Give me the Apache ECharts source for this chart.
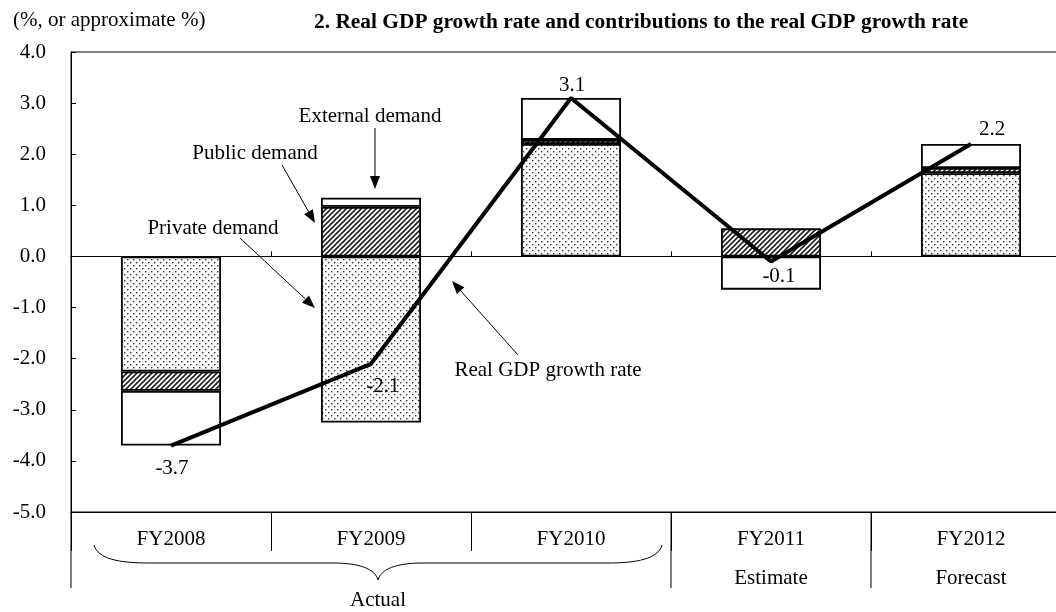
<!DOCTYPE html>
<html>
<head>
<meta charset="utf-8">
<script src="https://cdn.jsdelivr.net/npm/echarts@6/dist/echarts.min.js"></script>
<style>
html,body{margin:0;padding:0;background:#fff;}
#chart{width:1056px;height:612px;}
</style>
</head>
<body>
<div id="chart"></div>
<script>
// ---- data ----
const categories = ['FY2008', 'FY2009', 'FY2010', 'FY2011', 'FY2012'];
const subLabels = ['', '', '', 'Estimate', 'Forecast'];
const privateDemand = [-2.25, -3.25, 2.2, 0.0, 1.63];
const publicDemand = [-0.38, 0.97, 0.08, 0.55, 0.1];
const externalDemand = [-1.07, 0.18, 0.82, -0.65, 0.47];
const gdpGrowth = [-3.7, -2.1, 3.1, -0.1, 2.2];
const yMin = -5, yMax = 4, yStep = 1;

const FONT = '"Liberation Serif", "Times New Roman", serif';
const FS = 21;

function dotPattern() {
  const c = document.createElement('canvas');
  c.width = 6; c.height = 6;
  const g = c.getContext('2d');
  g.fillStyle = '#ffffff'; g.fillRect(0, 0, 6, 6);
  g.fillStyle = '#333333';
  g.fillRect(1, 1, 1.4, 1.4);
  g.fillRect(4, 4, 1.4, 1.4);
  return c;
}
function hatchPattern() {
  const s = 5;
  const c = document.createElement('canvas');
  c.width = s; c.height = s;
  const g = c.getContext('2d');
  g.fillStyle = '#ffffff'; g.fillRect(0, 0, s, s);
  g.strokeStyle = '#222222'; g.lineWidth = 1.6;
  g.beginPath();
  g.moveTo(-1, s + 1); g.lineTo(s + 1, -1);
  g.moveTo(-1, 1); g.lineTo(1, -1);
  g.moveTo(s - 1, s + 1); g.lineTo(s + 1, s - 1);
  g.stroke();
  return c;
}

const chart = echarts.init(document.getElementById('chart'), null, {renderer: 'canvas'});

const barStyle = (fill) => ({
  color: fill,
  borderColor: '#000',
  borderWidth: 1.8
});

// label placement for the GDP line values
const gdpLabelPos = [
  {position: 'bottom', distance: 12, offset: [1, 0]},
  {position: 'bottom', distance: 8, offset: [12, 4]},
  {position: 'top', distance: 2, offset: [1, 0]},
  {position: 'bottom', distance: 4, offset: [8, 0]},
  {position: 'top', distance: 4, offset: [21, 0]}
];

const option = {
  animation: false,
  backgroundColor: '#fff',
  textStyle: {fontFamily: FONT},
  grid: {left: 71, top: 52, width: 1000, bottom: 100, containLabel: false, outerBoundsMode: 'none',
         show: true, borderColor: '#000', borderWidth: 1, backgroundColor: 'transparent'},
  xAxis: [
    {
      type: 'category', data: categories, boundaryGap: true,
      axisLine: {onZero: true, lineStyle: {color: '#000', width: 1}},
      axisTick: {show: true, inside: true, length: 5, lineStyle: {color: '#000'}},
      axisLabel: {show: false}, splitLine: {show: false}
    },
    {
      type: 'category', data: categories, boundaryGap: true, position: 'bottom',
      axisLine: {onZero: false, lineStyle: {color: '#000', width: 1}},
      axisTick: {show: true, inside: false, length: 39, lineStyle: {color: '#000'}},
      axisLabel: {
        show: true, margin: 8, color: '#000', fontFamily: FONT, fontSize: FS, lineHeight: 39,
        formatter: (v, i) => subLabels[i] ? v + '\n' + subLabels[i] : v
      },
      splitLine: {show: false}
    }
  ],
  yAxis: {
    type: 'value', min: yMin, max: yMax, interval: yStep,
    axisLine: {show: true, lineStyle: {color: '#000', width: 1}},
    axisTick: {show: true, inside: true, length: 5, lineStyle: {color: '#000'}},
    axisLabel: {color: '#000', fontFamily: FONT, fontSize: FS, margin: 25, formatter: v => v.toFixed(1)},
    splitLine: {show: false}
  },
  series: [
    {name: 'Private demand', type: 'bar', stack: 'total', barWidth: '50%', xAxisIndex: 0, data: privateDemand, itemStyle: barStyle({image: dotPattern(), repeat: 'repeat'}), z: 2},
    {name: 'Public demand', type: 'bar', stack: 'total', barWidth: '50%', xAxisIndex: 0, data: publicDemand, itemStyle: barStyle({image: hatchPattern(), repeat: 'repeat'}), z: 2},
    {name: 'External demand', type: 'bar', stack: 'total', barWidth: '50%', xAxisIndex: 0, data: externalDemand, itemStyle: barStyle('#ffffff'), z: 2},
    {
      name: 'Real GDP growth rate', type: 'line', z: 5, xAxisIndex: 0,
      data: gdpGrowth.map((v, i) => ({value: v, label: gdpLabelPos[i]})),
      showSymbol: true, symbol: 'circle', symbolSize: 1,
      itemStyle: {color: '#000'},
      lineStyle: {color: '#000', width: 4},
      label: {show: true, color: '#000', fontFamily: FONT, fontSize: FS, formatter: p => p.value.toFixed(1)}
    }
  ]
};
chart.setOption(option);

// ---- decorations (anchored to the axes) ----
function px(i) { return chart.convertToPixel({xAxisIndex: 0}, i); }
function py(v) { return chart.convertToPixel({yAxisIndex: 0}, v); }
const half = (px(1) - px(0)) / 2;
const yBot = py(yMin);
const xLeft = px(0) - half;

function arrow(x1, y1, x2, y2) {
  const ang = Math.atan2(y2 - y1, x2 - x1);
  const L = 13, W = 5;
  const bx = x2 - L * Math.cos(ang), by = y2 - L * Math.sin(ang);
  const nx = -Math.sin(ang) * W, ny = Math.cos(ang) * W;
  return [
    {type: 'line', shape: {x1, y1, x2: bx, y2: by}, style: {stroke: '#000', lineWidth: 1}, z: 10},
    {type: 'polygon', shape: {points: [[x2, y2], [bx + nx, by + ny], [bx - nx, by - ny]]}, style: {fill: '#000'}, z: 10}
  ];
}
function txt(x, y, s, align, font) {
  return {type: 'text', x, y, style: {text: s, fill: '#000', font: font || (FS + 'px ' + FONT), align: align || 'center', verticalAlign: 'middle'}, z: 10};
}
function seg(x1, y1, x2, y2) {
  return {type: 'line', shape: {x1, y1, x2, y2}, style: {stroke: '#000', lineWidth: 1}};
}
function bez(x1, y1, c1x, c1y, c2x, c2y, x2, y2) {
  return {type: 'bezierCurve', shape: {x1, y1, cpx1: c1x, cpy1: c1y, cpx2: c2x, cpy2: c2y, x2, y2}, style: {stroke: '#000', fill: null, lineWidth: 1}};
}

const bx0 = px(0) - 77, bx1 = px(2) + 91, tipX = (bx0 + bx1) / 2;
const bTop = yBot + 33, bMid = yBot + 51, bTip = yBot + 68;

const graphic = [
  txt(13, 20, '(%, or approximate %)', 'left'),
  {type: 'text', x: 314, y: 22, style: {text: '2. Real GDP growth rate and contributions to the real GDP growth rate', fill: '#000', font: 'bold 21.4px ' + FONT, align: 'left', verticalAlign: 'middle'}, z: 10},
  // extended separators below the axis
  seg(xLeft, yBot, xLeft, yBot + 76),
  seg(px(2) + half, yBot, px(2) + half, yBot + 76),
  seg(px(3) + half, yBot, px(3) + half, yBot + 76),
  // brace
  bez(bx0, bTop, bx0 + 4, bMid - 4, bx0 + 25, bMid, bx0 + 55, bMid),
  seg(bx0 + 55, bMid, tipX - 45, bMid),
  bez(tipX - 45, bMid, tipX - 18, bMid, tipX - 3, bMid + 6, tipX, bTip),
  bez(tipX, bTip, tipX + 3, bMid + 6, tipX + 18, bMid, tipX + 45, bMid),
  seg(tipX + 45, bMid, bx1 - 55, bMid),
  bez(bx1 - 55, bMid, bx1 - 25, bMid, bx1 - 4, bMid - 4, bx1, bTop),
  txt(tipX, yBot + 88, 'Actual'),
  // annotations
  txt(370, 116, 'External demand'),
  ...arrow(375, 128, 375, 189),
  txt(255, 153, 'Public demand'),
  ...arrow(282, 165, 315, 223),
  txt(213, 228, 'Private demand'),
  ...arrow(240, 238, 315, 308),
  txt(548, 370, 'Real GDP growth rate'),
  ...arrow(518, 355, 452, 281)
];
chart.setOption({graphic: graphic});
</script>
</body>
</html>
